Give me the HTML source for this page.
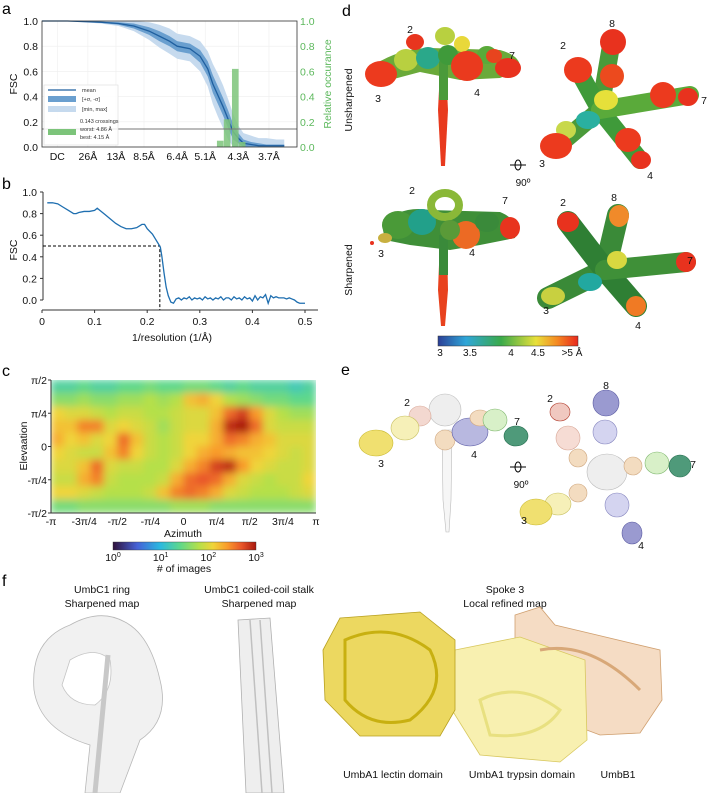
<!DOCTYPE html>
<html><head><meta charset="utf-8">
<style>
html,body{margin:0;padding:0;background:#fff;}
svg{display:block;font-family:"Liberation Sans",Arial,sans-serif;}
.t{font-size:10.5px;fill:#111;font-family:"Liberation Sans",Arial,sans-serif;}
.s{font-size:10px;fill:#111;font-family:"Liberation Sans",Arial,sans-serif;}
.L{font-size:16px;fill:#000;font-family:"Liberation Sans",Arial,sans-serif;}
</style></head>
<body>
<svg id="fig" width="708" height="793" viewBox="0 0 708 793" xmlns="http://www.w3.org/2000/svg">
<defs>
 <clipPath id="hmclip"><rect x="51" y="380" width="265" height="133"/></clipPath>
 <filter id="blur" x="-5%" y="-5%" width="110%" height="110%"><feGaussianBlur stdDeviation="4" edgeMode="duplicate"/></filter>
 <linearGradient id="turbo" x1="0" x2="1" y1="0" y2="0">
  <stop offset="0" stop-color="#30123b"/><stop offset="0.17" stop-color="#4662d7"/><stop offset="0.33" stop-color="#2ab9e0"/>
  <stop offset="0.47" stop-color="#5fd88a"/><stop offset="0.6" stop-color="#b5e04a"/><stop offset="0.7" stop-color="#f0d43a"/>
  <stop offset="0.8" stop-color="#f99a2c"/><stop offset="0.9" stop-color="#e8552a"/><stop offset="1" stop-color="#a8180e"/>
 </linearGradient>
 <linearGradient id="locres" x1="0" x2="1" y1="0" y2="0">
  <stop offset="0" stop-color="#2b3f96"/><stop offset="0.2" stop-color="#2fa6d8"/><stop offset="0.45" stop-color="#3aaa4a"/>
  <stop offset="0.7" stop-color="#e8e03a"/><stop offset="0.85" stop-color="#f58a22"/><stop offset="1" stop-color="#e8281e"/>
 </linearGradient>
</defs>

<text class="L" x="2" y="14">a</text>
<text class="L" x="2" y="189">b</text>
<text class="L" x="2" y="376">c</text>
<text class="L" x="342" y="16">d</text>
<text class="L" x="341" y="375">e</text>
<text class="L" x="2" y="586">f</text>

<g id="pa"></g>
<g id="pb"></g>
<g id="pc"></g>

<g>
 <text class="t" transform="translate(352,100) rotate(-90)" text-anchor="middle">Unsharpened</text>
 <text class="t" transform="translate(352,270) rotate(-90)" text-anchor="middle">Sharpened</text>
 <g>
  <path d="M372,66 Q400,48 430,48 L500,50 Q522,56 520,70 L500,78 L460,80 L420,72 L390,80 Z" fill="#6aaa3a"/>
  <path d="M440,70 L446,70 L448,110 L445,166 L441,166 L438,110 Z" fill="#e83a1e"/>
  <path d="M439,60 L448,60 L448,100 L439,100 Z" fill="#4a9a3a"/>
  <ellipse cx="415" cy="42" rx="9" ry="8" fill="#e8351e"/>
  <ellipse cx="445" cy="36" rx="10" ry="9" fill="#b8d040"/>
  <ellipse cx="462" cy="44" rx="8" ry="8" fill="#e8d83a"/>
  <ellipse cx="406" cy="60" rx="12" ry="11" fill="#b8d040"/>
  <ellipse cx="428" cy="58" rx="12" ry="11" fill="#2aa88a"/>
  <ellipse cx="448" cy="55" rx="10" ry="10" fill="#3f9a3a"/>
  <ellipse cx="487" cy="55" rx="10" ry="9" fill="#5aaa3a"/>
  <ellipse cx="381" cy="74" rx="16" ry="13" fill="#ec3a1e"/>
  <ellipse cx="467" cy="66" rx="16" ry="15" fill="#ea3a1e"/>
  <ellipse cx="508" cy="68" rx="13" ry="10" fill="#e8321e"/>
  <ellipse cx="494" cy="56" rx="8" ry="7" fill="#e8441e"/>
 </g>
 <g>
  <path d="M555,148 L600,110 L612,40" stroke="#4a9a3a" stroke-width="18" fill="none" stroke-linecap="round"/>
  <path d="M578,70 L600,110 L640,160" stroke="#3f9a3a" stroke-width="18" fill="none" stroke-linecap="round"/>
  <path d="M600,110 L690,95" stroke="#5aaa3a" stroke-width="18" fill="none" stroke-linecap="round"/>
  <ellipse cx="588" cy="120" rx="12" ry="9" fill="#2ab0a0"/>
  <ellipse cx="606" cy="100" rx="12" ry="10" fill="#e6e03a"/>
  <ellipse cx="566" cy="130" rx="10" ry="9" fill="#c8d84a"/>
  <ellipse cx="613" cy="42" rx="13" ry="13" fill="#e8321e"/>
  <ellipse cx="612" cy="76" rx="12" ry="12" fill="#ec4a1e"/>
  <ellipse cx="578" cy="70" rx="14" ry="13" fill="#ec3a1e"/>
  <ellipse cx="663" cy="95" rx="13" ry="13" fill="#ec3a1e"/>
  <ellipse cx="688" cy="97" rx="10" ry="9" fill="#e8321e"/>
  <ellipse cx="628" cy="140" rx="13" ry="12" fill="#ec3a1e"/>
  <ellipse cx="641" cy="160" rx="10" ry="9" fill="#e8321e"/>
  <ellipse cx="556" cy="146" rx="16" ry="13" fill="#ec3a1e"/>
 </g>
 <g>
  <path d="M382,225 Q400,205 430,210 L500,212 Q520,220 515,238 L480,245 L450,250 L410,245 L385,240 Z" fill="#3f8f38"/>
  <path d="M440,240 L447,240 L448,290 L445,326 L441,326 L438,290 Z" fill="#e8421e"/>
  <path d="M439,235 L448,235 L448,275 L439,275 Z" fill="#3a8a3a"/>
  <ellipse cx="398" cy="225" rx="16" ry="14" fill="#4a9a38"/>
  <ellipse cx="422" cy="222" rx="14" ry="13" fill="#22a08a"/>
  <ellipse cx="445" cy="205" rx="14" ry="12" fill="none" stroke="#8ab838" stroke-width="8"/>
  <ellipse cx="466" cy="235" rx="14" ry="14" fill="#ec6a24"/>
  <ellipse cx="487" cy="222" rx="12" ry="10" fill="#3a8a3a"/>
  <ellipse cx="510" cy="228" rx="10" ry="11" fill="#e8341e"/>
  <ellipse cx="385" cy="238" rx="7" ry="5" fill="#c8b040"/>
  <ellipse cx="450" cy="230" rx="10" ry="10" fill="#5a9a38"/>
  <circle cx="372" cy="243" r="2" fill="#e8321e"/>
 </g>
 <g>
  <path d="M548,298 L605,270 L618,215" stroke="#3a8a38" stroke-width="22" fill="none" stroke-linecap="round"/>
  <path d="M568,222 L605,270 L636,306" stroke="#2f7f34" stroke-width="22" fill="none" stroke-linecap="round"/>
  <path d="M605,270 L686,262" stroke="#3f9038" stroke-width="20" fill="none" stroke-linecap="round"/>
  <ellipse cx="590" cy="282" rx="12" ry="9" fill="#22a8a0"/>
  <ellipse cx="617" cy="260" rx="10" ry="9" fill="#d8d840"/>
  <ellipse cx="568" cy="222" rx="11" ry="10" fill="#e8321e"/>
  <ellipse cx="619" cy="216" rx="10" ry="11" fill="#f08a2a"/>
  <ellipse cx="686" cy="262" rx="10" ry="10" fill="#e8321e"/>
  <ellipse cx="636" cy="306" rx="10" ry="10" fill="#f07a24"/>
  <ellipse cx="553" cy="296" rx="12" ry="9" fill="#c8d040"/>
 </g>
 <g>
  <line x1="510" y1="165" x2="526" y2="165" stroke="#000" stroke-width="1"/>
  <ellipse cx="518" cy="165" rx="3" ry="5" fill="none" stroke="#000" stroke-width="1"/>
  <text class="s" x="523" y="186" text-anchor="middle">90º</text>
 </g>
 <g class="t">
  <text class="t" x="410" y="33" text-anchor="middle">2</text><text class="t" x="512" y="59" text-anchor="middle">7</text>
  <text class="t" x="378" y="102" text-anchor="middle">3</text><text class="t" x="477" y="96" text-anchor="middle">4</text>
  <text class="t" x="612" y="27" text-anchor="middle">8</text><text class="t" x="563" y="49" text-anchor="middle">2</text>
  <text class="t" x="704" y="104" text-anchor="middle">7</text><text class="t" x="542" y="167" text-anchor="middle">3</text>
  <text class="t" x="650" y="179" text-anchor="middle">4</text>
  <text class="t" x="412" y="194" text-anchor="middle">2</text><text class="t" x="505" y="204" text-anchor="middle">7</text>
  <text class="t" x="381" y="257" text-anchor="middle">3</text><text class="t" x="472" y="256" text-anchor="middle">4</text>
  <text class="t" x="563" y="206" text-anchor="middle">2</text><text class="t" x="614" y="201" text-anchor="middle">8</text>
  <text class="t" x="690" y="264" text-anchor="middle">7</text><text class="t" x="546" y="314" text-anchor="middle">3</text>
  <text class="t" x="638" y="329" text-anchor="middle">4</text>
 </g>
 <g>
  <rect x="438" y="336" width="140" height="10" fill="url(#locres)" stroke="#333" stroke-width="0.5"/>
  <g text-anchor="middle">
   <text class="s" x="440" y="356">3</text><text class="s" x="470" y="356">3.5</text><text class="s" x="511" y="356">4</text>
   <text class="s" x="538" y="356">4.5</text><text class="s" x="572" y="356">&gt;5 Å</text>
  </g>
 </g>
</g>

<g>
 <g stroke-width="0.6">
  <path d="M442,430 L452,430 L451,500 L449,532 L446,532 L443,500 Z" fill="#f6f6f6" stroke="#bbb"/>
  <ellipse cx="445" cy="410" rx="16" ry="16" fill="#eeeeee" stroke="#bbb"/>
  <ellipse cx="420" cy="416" rx="11" ry="10" fill="#f3d8d0" stroke="#d8a898"/>
  <ellipse cx="405" cy="428" rx="14" ry="12" fill="#f6f0b8" stroke="#c8c060"/>
  <ellipse cx="376" cy="443" rx="17" ry="13" fill="#f0e070" stroke="#c8b830"/>
  <ellipse cx="445" cy="440" rx="10" ry="10" fill="#f3dcc0" stroke="#d0a880"/>
  <ellipse cx="470" cy="432" rx="18" ry="14" fill="#b8b8e0" stroke="#6060a8"/>
  <ellipse cx="480" cy="418" rx="10" ry="8" fill="#f3dcc0" stroke="#d0a880"/>
  <ellipse cx="495" cy="420" rx="12" ry="11" fill="#d8f0c8" stroke="#80b870"/>
  <ellipse cx="516" cy="436" rx="12" ry="10" fill="#4f9a7a" stroke="#1f6a4a"/>
 </g>
 <g stroke-width="0.6">
  <ellipse cx="607" cy="472" rx="20" ry="18" fill="#eeeeee" stroke="#bbb"/>
  <ellipse cx="605" cy="432" rx="12" ry="12" fill="#d4d4f0" stroke="#8888c0"/>
  <ellipse cx="606" cy="403" rx="13" ry="13" fill="#9a9ad0" stroke="#5858a0"/>
  <ellipse cx="578" cy="458" rx="9" ry="9" fill="#f3dcc0" stroke="#d0a880"/>
  <ellipse cx="568" cy="438" rx="12" ry="12" fill="#f6dcd4" stroke="#d8a898"/>
  <ellipse cx="560" cy="412" rx="10" ry="9" fill="#f0c8c0" stroke="#b03a2a"/>
  <ellipse cx="633" cy="466" rx="9" ry="9" fill="#f3dcc0" stroke="#d0a880"/>
  <ellipse cx="657" cy="463" rx="12" ry="11" fill="#d8f0c8" stroke="#80b870"/>
  <ellipse cx="680" cy="466" rx="11" ry="11" fill="#4f9a7a" stroke="#1f6a4a"/>
  <ellipse cx="617" cy="505" rx="12" ry="12" fill="#d4d4f0" stroke="#8888c0"/>
  <ellipse cx="632" cy="533" rx="10" ry="11" fill="#9a9ad0" stroke="#5858a0"/>
  <ellipse cx="578" cy="493" rx="9" ry="9" fill="#f3dcc0" stroke="#d0a880"/>
  <ellipse cx="558" cy="504" rx="13" ry="11" fill="#f6f0b8" stroke="#c8c060"/>
  <ellipse cx="536" cy="512" rx="16" ry="13" fill="#f0e070" stroke="#c8b830"/>
 </g>
 <g>
  <line x1="510" y1="467" x2="526" y2="467" stroke="#000" stroke-width="1"/>
  <ellipse cx="518" cy="467" rx="3" ry="5" fill="none" stroke="#000" stroke-width="1"/>
  <text class="s" x="521" y="488" text-anchor="middle">90º</text>
 </g>
 <g text-anchor="middle">
  <text class="t" x="407" y="406">2</text><text class="t" x="517" y="425">7</text><text class="t" x="381" y="467">3</text><text class="t" x="474" y="458">4</text>
  <text class="t" x="606" y="389">8</text><text class="t" x="550" y="402">2</text><text class="t" x="693" y="468">7</text><text class="t" x="524" y="524">3</text><text class="t" x="641" y="549">4</text>
 </g>
</g>

<g>
 <g text-anchor="middle">
  <text class="t" x="102" y="593">UmbC1 ring</text><text class="t" x="102" y="607">Sharpened map</text>
  <text class="t" x="259" y="593">UmbC1 coiled-coil stalk</text><text class="t" x="259" y="607">Sharpened map</text>
  <text class="t" x="505" y="593">Spoke 3</text><text class="t" x="505" y="607">Local refined map</text>
  <text class="t" x="393" y="778">UmbA1 lectin domain</text><text class="t" x="522" y="778">UmbA1 trypsin domain</text><text class="t" x="618" y="778">UmbB1</text>
 </g>
 <g>
  <path d="M70,625 Q100,608 125,622 Q150,635 160,680 Q170,720 140,740 L120,793 L85,793 L90,745 Q40,730 34,690 Q30,640 70,625 Z" fill="#f1f1f1" stroke="#b8b8b8" stroke-width="0.8"/>
  <path d="M70,660 Q95,645 110,660 Q115,690 95,705 Q70,705 62,685 Z" fill="#fff" stroke="#c4c4c4" stroke-width="0.8"/>
  <path d="M108,655 L95,793" stroke="#c8c8c8" stroke-width="5" fill="none"/>
 </g>
 <g>
  <path d="M238,620 L270,618 L284,793 L246,793 Z" fill="#eeeeee" stroke="#b0b0b0" stroke-width="0.8"/>
  <path d="M250,620 L262,793 M260,620 L272,793" stroke="#c0c0c0" stroke-width="1.5" fill="none"/>
 </g>
 <g>
  <path d="M515,615 L540,607 L555,625 L660,650 L662,700 L640,733 L600,735 L560,720 L515,690 Z" fill="#f5dcc4" stroke="#d0a070" stroke-width="0.8"/>
  <path d="M455,650 L520,637 L585,660 L587,740 L560,762 L480,755 L452,710 Z" fill="#f8f0b0" stroke="#d8c860" stroke-width="0.8"/>
  <path d="M340,618 L420,612 L455,640 L455,710 L440,736 L360,736 L325,700 L323,650 Z" fill="#ecd860" stroke="#b8a020" stroke-width="0.8"/>
  <path d="M345,640 Q390,620 430,650 Q450,690 410,720 Q370,730 345,700 Z" fill="none" stroke="#c8b010" stroke-width="3"/>
  <path d="M480,700 Q520,680 560,710 Q540,740 490,735 Z" fill="none" stroke="#e8e080" stroke-width="3"/>
  <path d="M540,650 Q590,640 640,690" fill="none" stroke="#d8a878" stroke-width="3"/>
 </g>
</g>
</svg>

<script>
const aShells = [0,10,23,30,36,42,46,50,53,58,62,65,67,69,71,73,75,77,79,82,85,88,92,95];
const aMean   = [1,1,0.99,0.98,0.96,0.92,0.88,0.84,0.80,0.78,0.72,0.62,0.50,0.41,0.32,0.22,0.12,0.07,0.03,0.02,0.01,0.01,0.01,0.01];
const aSigma  = [0,0,0.005,0.01,0.02,0.03,0.04,0.04,0.04,0.04,0.05,0.06,0.07,0.07,0.07,0.07,0.06,0.04,0.03,0.02,0.02,0.01,0.01,0.01];
const aSpread = [0,0,0.01,0.02,0.04,0.07,0.09,0.10,0.10,0.10,0.12,0.14,0.16,0.17,0.17,0.16,0.14,0.10,0.08,0.07,0.06,0.06,0.05,0.05];
const aHistStart = [68.6,71.3,74.5,77.2];
const aHistHeight = [0.05,0.22,0.62,0.04];
const aHistWidth = 2.6;
const aTickPos = [6,18,29,40,53,64,77,89];
const aTickLabels = ["DC","26Å","13Å","8.5Å","6.4Å","5.1Å","4.3Å","3.7Å"];
const aYTicks = [0,0.2,0.4,0.6,0.8,1.0];
const aThreshold = 0.143;

const bX = [0.01,0.02,0.03,0.04,0.05,0.06,0.065,0.07,0.08,0.09,0.1,0.105,0.11,0.12,0.13,0.14,0.15,0.16,0.17,0.18,0.19,0.195,0.2,0.21,0.215,0.22,0.225,0.228,0.232,0.236,0.24,0.245,0.25];
const bY = [0.90,0.90,0.89,0.86,0.83,0.80,0.80,0.81,0.82,0.82,0.83,0.85,0.83,0.79,0.75,0.71,0.68,0.66,0.66,0.67,0.70,0.70,0.66,0.61,0.57,0.53,0.49,0.40,0.25,0.12,0.04,-0.02,-0.03];
const bTailStart = 0.255, bTailStep = 0.005;
const bTailY = [0.01,0.02,0.0,0.02,0.01,0.03,0.0,0.02,0.01,0.02,0.0,0.03,0.01,0.02,0.0,0.02,0.01,0.03,0.0,0.02,0.02,0.0,0.03,0.01,0.02,0.0,0.03,0.01,0.02,-0.01,0.04,0.0,0.03,0.02,0.05,-0.03,0.04,0.02,0.03,0.02,0.02,0.02,0.01,0.02,0.01,0.0,-0.02,-0.03,-0.03,-0.03];
const bXTicks = [0,0.1,0.2,0.3,0.4,0.5];
const bYTicks = [0,0.2,0.4,0.6,0.8,1.0];
const bCutoffY = 0.5, bCutoffX = 0.224;

const cGrid = [
[1.3,1.3,1.4,1.3,1.3,1.4,1.4,1.5,1.4,1.4,1.5,1.5,1.4,1.3,1.4,1.3,1.3,1.3,1.2,1.3],
[1.6,1.6,1.7,1.6,1.6,1.7,1.7,1.8,1.7,1.8,2.2,2.3,2.1,1.8,1.7,1.6,1.5,1.5,1.4,1.4],
[2.1,2.0,2.0,1.9,1.8,1.9,1.9,1.8,1.8,1.9,2.0,2.0,2.2,2.6,2.8,2.4,2.0,1.8,1.7,1.7],
[2.2,2.2,2.5,2.5,2.0,2.1,2.0,1.9,1.7,1.9,2.0,2.0,2.3,2.9,3.0,2.6,2.0,1.9,1.9,1.9],
[2.3,2.1,2.2,2.0,2.1,2.6,2.2,1.9,1.8,1.9,2.1,2.1,2.3,2.6,2.5,2.3,2.2,2.0,2.0,2.0],
[2.1,2.0,1.9,1.9,2.2,2.5,2.1,1.9,1.8,1.9,2.1,2.3,2.4,2.3,2.2,2.2,2.1,2.0,1.9,2.0],
[2.0,2.0,2.2,2.6,2.0,1.9,1.9,1.8,1.8,2.0,2.3,2.5,2.8,2.9,2.4,2.1,2.0,1.9,1.9,2.0],
[1.9,1.9,2.3,2.5,1.9,1.8,1.8,1.8,1.9,2.3,2.6,2.7,2.6,2.3,2.0,1.9,1.8,1.9,1.9,2.1],
[2.1,2.1,2.0,1.9,1.8,1.8,1.8,1.9,2.2,2.5,2.6,2.5,2.3,2.0,1.9,1.8,1.8,1.8,1.9,2.0],
[1.5,1.5,1.6,1.6,1.6,1.6,1.6,1.6,1.6,1.7,1.7,1.7,1.6,1.6,1.6,1.6,1.6,1.6,1.6,1.6]];
const cXLabels = ["-π","-3π/4","-π/2","-π/4","0","π/4","π/2","3π/4","π"];
const cYLabels = ["π/2","π/4","0","-π/4","-π/2"];
const cCbarLabels = ["0","1","2","3"];

const NS = "http://www.w3.org/2000/svg";
function mk(parent, tag, attrs, text){
  const e = document.createElementNS(NS, tag);
  for (const k in attrs) e.setAttribute(k, attrs[k]);
  if (text !== undefined) e.textContent = text;
  parent.appendChild(e); return e;
}

(function(){
  const g = document.getElementById('pa');
  const X0=42, X1=297, Y0=147, Y1=21;
  const xs = s => X0 + (X1-X0)*s/100;
  const ys = v => Y0 - (Y0-Y1)*v;
  aYTicks.forEach(v=>{ mk(g,'line',{x1:X0,x2:X1,y1:ys(v),y2:ys(v),stroke:'#eee','stroke-width':0.6}); });
  aTickPos.forEach(p=>{ mk(g,'line',{x1:xs(p),x2:xs(p),y1:Y1,y2:Y0,stroke:'#eee','stroke-width':0.6}); });
  let up='', dn='';
  aShells.forEach((s,i)=>{ up += (i?'L':'M')+xs(s)+','+ys(Math.min(1,aMean[i]+aSpread[i])); });
  for (let i=aShells.length-1;i>=0;i--) dn += 'L'+xs(aShells[i])+','+ys(Math.max(0,aMean[i]-aSpread[i]));
  const mm = mk(g,'path',{d:up+dn+'Z',fill:'#c6daee'});
  
  
  up=''; dn='';
  aShells.forEach((s,i)=>{ up += (i?'L':'M')+xs(s)+','+ys(Math.min(1,aMean[i]+aSigma[i])); });
  for (let i=aShells.length-1;i>=0;i--) dn += 'L'+xs(aShells[i])+','+ys(Math.max(0,aMean[i]-aSigma[i]));
  const sg = mk(g,'path',{d:up+dn+'Z',fill:'#6a9fcf'});
  
  
  let md='';
  aShells.forEach((s,i)=>{ md += (i?'L':'M')+xs(s)+','+ys(aMean[i]); });
  const ml = mk(g,'path',{d:md,fill:'none',stroke:'#1f5f9f','stroke-width':1.3});
  
  
  aHistStart.forEach((s,i)=>{
    const r = mk(g,'rect',{x:xs(s),y:ys(aHistHeight[i]),width:xs(s+aHistWidth)-xs(s),height:ys(0)-ys(aHistHeight[i]),fill:'#7cc47a','fill-opacity':0.85});
    
    
  });
  const th = mk(g,'line',{x1:X0,x2:X1,y1:ys(aThreshold),y2:ys(aThreshold),stroke:'#777','stroke-width':1});
  
  
  mk(g,'rect',{x:X0,y:Y1,width:X1-X0,height:Y0-Y1,fill:'none',stroke:'#333','stroke-width':0.8});
  aYTicks.forEach(v=>{
    const t = mk(g,'text',{class:'t',x:X0-4,y:ys(v)+4,'text-anchor':'end'},v.toFixed(1));
    
    
    const t2 = mk(g,'text',{class:'t',x:X1+3,y:ys(v)+4,style:'fill:#5cb85c'},v.toFixed(1));
    
    
  });
  aTickPos.forEach((p,i)=>{
    const t = mk(g,'text',{class:'t',x:xs(p),y:Y0+13,'text-anchor':'middle'},aTickLabels[i]);
    
    
  });
  const yl = mk(g,'text',{class:'t',transform:'translate(17,84) rotate(-90)','text-anchor':'middle'},'FSC');
  
  
  const yr = mk(g,'text',{class:'t',transform:'translate(331,84) rotate(-90)','text-anchor':'middle',style:'fill:#5cb85c'},'Relative occurance');
  
  
  const lg = mk(g,'g',{});
  
  
  mk(lg,'rect',{x:44,y:85,width:74,height:60,fill:'#fff','fill-opacity':0.85,stroke:'#ddd','stroke-width':0.6});
  mk(lg,'line',{x1:48,x2:76,y1:90,y2:90,stroke:'#1f5f9f','stroke-width':1.3});
  mk(lg,'rect',{x:48,y:96,width:28,height:6,fill:'#6a9fcf'});
  mk(lg,'rect',{x:48,y:106,width:28,height:6,fill:'#c6daee'});
  mk(lg,'rect',{x:48,y:129,width:28,height:6,fill:'#7cc47a'});
  const ls = 'font-size:5.5px;fill:#333';
  mk(lg,'text',{x:82,y:92,style:ls},'mean');
  mk(lg,'text',{x:82,y:101,style:ls},'[+σ, -σ]');
  mk(lg,'text',{x:82,y:111,style:ls},'[min, max]');
  mk(lg,'text',{x:80,y:123,style:ls},'0.143 crossings');
  mk(lg,'text',{x:80,y:131,style:ls},'worst: 4.86 Å');
  mk(lg,'text',{x:80,y:139,style:ls},'best: 4.15 Å');
})();

(function(){
  const g = document.getElementById('pb');
  const xs = v => 42 + 526*v;
  const ys = v => 300 - 108*v;
  mk(g,'line',{x1:43,x2:43,y1:ys(1),y2:ys(0),stroke:'#333','stroke-width':1});
  mk(g,'line',{x1:42,x2:318,y1:310,y2:310,stroke:'#333','stroke-width':1});
  bYTicks.forEach(v=>{
    mk(g,'line',{x1:40,x2:43,y1:ys(v),y2:ys(v),stroke:'#333'});
    const t = mk(g,'text',{class:'t',x:37,y:ys(v)+4,'text-anchor':'end'},v.toFixed(1));
    
    
  });
  bXTicks.forEach(v=>{
    mk(g,'line',{x1:xs(v),x2:xs(v),y1:310,y2:313,stroke:'#333'});
    const t = mk(g,'text',{class:'t',x:xs(v),y:325,'text-anchor':'middle'},String(v));
    
    
  });
  const d1 = mk(g,'path',{d:`M43,${ys(bCutoffY)} L${xs(bCutoffX)},${ys(bCutoffY)} L${xs(bCutoffX)},310`,fill:'none',stroke:'#000','stroke-width':1,'stroke-dasharray':'3,2'});
  
  
  let d='';
  bX.forEach((x,i)=>{ d += (i?'L':'M')+xs(x)+','+ys(bY[i]); });
  bTailY.forEach((y,i)=>{ d += 'L'+xs(bTailStart+i*bTailStep)+','+ys(y); });
  const c = mk(g,'path',{d:d,fill:'none',stroke:'#1f6fb0','stroke-width':1.3});
  
  
  const yl = mk(g,'text',{class:'t',transform:'translate(17,250) rotate(-90)','text-anchor':'middle'},'FSC');
  
  
  const xl = mk(g,'text',{class:'t',x:172,y:341,'text-anchor':'middle'},'1/resolution (1/Å)');
  
  
})();

(function(){
  const g = document.getElementById('pc');
  const stops = [[0,[48,18,59]],[0.5,[70,98,215]],[1,[42,185,224]],[1.4,[95,216,138]],[1.8,[181,224,74]],[2.1,[240,212,58]],[2.4,[249,154,44]],[2.7,[232,85,42]],[3,[168,24,14]]];
  function cmap(v){
    v=Math.max(0,Math.min(3,v));
    for(let i=1;i<stops.length;i++){
      if(v<=stops[i][0]){const a=stops[i-1],b=stops[i],t=(v-a[0])/(b[0]-a[0]);
        return 'rgb('+a[1].map((c,k)=>Math.round(c+(b[1][k]-c)*t)).join(',')+')';}
    }
    return 'rgb(168,24,14)';
  }
  const X0=51,X1=316,Y0=380,Y1=513;
  const rows=cGrid.length, cols=cGrid[0].length;
  const cw=(X1-X0)/cols, ch=(Y1-Y0)/rows;
  const clip = mk(g,'g',{'clip-path':'url(#hmclip)'});
  const hm = mk(clip,'g',{filter:'url(#blur)'});
  cGrid.forEach((row,r)=>row.forEach((v,c)=>{
    const cell = mk(hm,'rect',{x:X0+c*cw-0.3,y:Y0+r*ch-0.3,width:cw+0.6,height:ch+0.6,fill:cmap(v)});
    
    
  }));
  mk(g,'line',{x1:X0,x2:X0,y1:Y0,y2:Y1,stroke:'#333'});
  mk(g,'line',{x1:X0,x2:X1,y1:Y1,y2:Y1,stroke:'#333'});
  cYLabels.forEach((l,i)=>{
    const y=Y0+(Y1-Y0)*i/(cYLabels.length-1);
    mk(g,'line',{x1:X0-3,x2:X0,y1:y,y2:y,stroke:'#333'});
    const t=mk(g,'text',{class:'t',x:X0-4,y:y+4,'text-anchor':'end'},l);
    
    
  });
  cXLabels.forEach((l,i)=>{
    const x=X0+(X1-X0)*i/(cXLabels.length-1);
    const t=mk(g,'text',{class:'t',x:x,y:Y1+12,'text-anchor':'middle'},l);
    
    
  });
  const xl=mk(g,'text',{class:'t',x:183,y:537,'text-anchor':'middle'},'Azimuth');
  
  
  const yl=mk(g,'text',{class:'t',transform:'translate(27,446) rotate(-90)','text-anchor':'middle'},'Elevaation');
  
  
  const cb=mk(g,'rect',{x:113,y:542,width:143,height:8,fill:'url(#turbo)',stroke:'#333','stroke-width':0.4});
  
  
  cCbarLabels.forEach((e,i)=>{
    const x=113+143*i/(cCbarLabels.length-1);
    const t=mk(g,'text',{class:'t',x:x,y:561,'text-anchor':'middle'});
    t.appendChild(document.createTextNode('10'));
    mk(t,'tspan',{dy:-4,style:'font-size:7px'},e);
    
    
  });
  const ct=mk(g,'text',{class:'t',x:184,y:572,'text-anchor':'middle'},'# of images');
  
  
})();
</script>
</body></html>
